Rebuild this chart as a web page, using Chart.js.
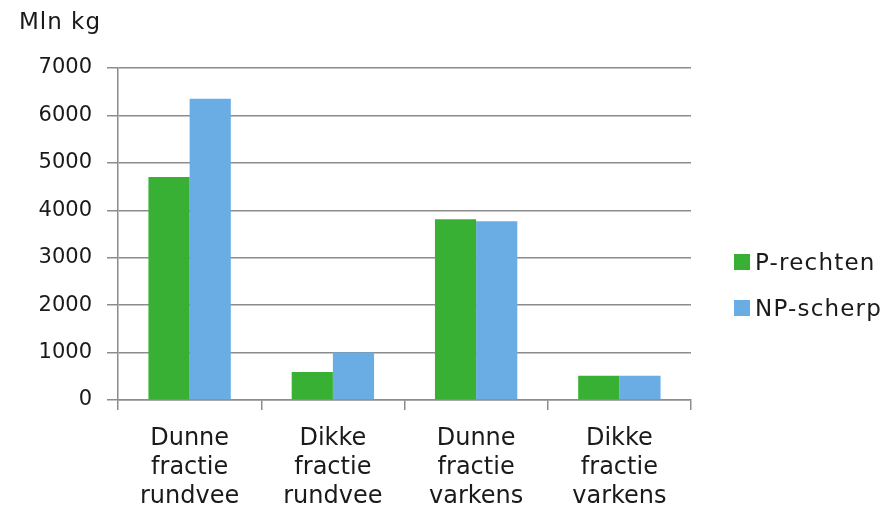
<!DOCTYPE html>
<html>
<head>
<meta charset="utf-8">
<script src="https://cdn.jsdelivr.net/npm/chart.js@4.4.1/dist/chart.umd.min.js"></script>
<style>
  body { margin: 0; background: #fff; }
  #wrap { position: relative; width: 889px; height: 521px; }
  #unit { position: absolute; left: 19px; top: 10px; font: 23px "DejaVu Sans"; color: #1a1a1a; letter-spacing: 1px; line-height: 1; }
  #legend { position: absolute; left: 734px; top: 250px; font: 23px "DejaVu Sans"; color: #1a1a1a; letter-spacing: 1.2px; }
  .item { display: flex; align-items: center; height: 24px; margin-bottom: 22px; }
  .box { width: 16px; height: 16px; margin-right: 5px; }
</style>
</head>
<body>
<div id="wrap">
  <canvas id="chart" width="889" height="521"></canvas>
  <div id="unit">Mln kg</div>
  <div id="legend"></div>
</div>
<script>
// data
const categories = [
    ['Dunne', 'fractie', 'rundvee'],
    ['Dikke', 'fractie', 'rundvee'],
    ['Dunne', 'fractie', 'varkens'],
    ['Dikke', 'fractie', 'varkens']
];
const seriesNames = ['P-rechten', 'NP-scherp'];
const pRechten = [4700, 590, 3810, 510];
const npScherp = [6350, 1000, 3770, 510];
const yTicks = [0, 1000, 2000, 3000, 4000, 5000, 6000, 7000];
const seriesColors = ['#37b034', '#6aace4'];

const axisGray = '#8c8c8c';
const textColor = '#1a1a1a';

const datasets = [pRechten, npScherp].map((values, i) => ({
    label: seriesNames[i],
    data: values,
    backgroundColor: seriesColors[i],
    borderWidth: 0,
    barPercentage: 1,
    categoryPercentage: 0.575
}));

new Chart(document.getElementById('chart'), {
    type: 'bar',
    data: { labels: categories, datasets: datasets },
    options: {
        responsive: false,
        animation: false,
        layout: { padding: { top: 68, right: 198, bottom: 0, left: 0 } },
        plugins: { legend: { display: false }, tooltip: { enabled: false } },
        scales: {
            x: {
                afterFit: s => { s.height = 121; },
                grid: { drawOnChartArea: false, color: axisGray, lineWidth: 1.5, tickLength: 10 },
                border: { color: axisGray, width: 1.5 },
                ticks: { color: textColor, padding: 14, maxRotation: 0, font: { family: 'DejaVu Sans', size: 24, lineHeight: 1.21 } }
            },
            y: {
                min: 0,
                max: 7000,
                afterFit: s => { s.width = 118; },
                afterBuildTicks: s => { s.ticks = yTicks.map(v => ({ value: v })); },
                grid: { color: axisGray, lineWidth: 1.5, tickLength: 11 },
                border: { color: axisGray, width: 1.5 },
                ticks: {
                    color: textColor,
                    padding: 15,
                    font: { family: 'DejaVu Sans', size: 21 },
                    callback: v => String(v)
                }
            }
        }
    }
});

// legend next to the plot
const legendEl = document.getElementById('legend');
seriesNames.forEach((name, i) => {
    legendEl.innerHTML += `<div class="item"><span class="box" style="background:${seriesColors[i]}"></span>${name}</div>`;
});
</script>
</body>
</html>
